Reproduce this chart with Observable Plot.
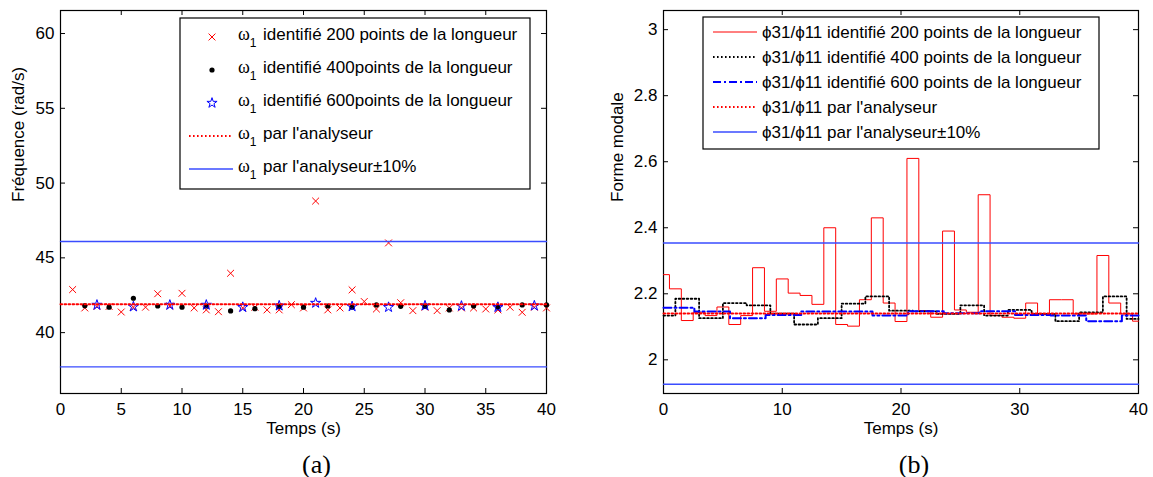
<!DOCTYPE html>
<html><head><meta charset="utf-8">
<script src="https://cdn.jsdelivr.net/npm/d3@7"></script>
<script src="https://cdn.jsdelivr.net/npm/@observablehq/plot@0.6"></script>
<style>
body{margin:0;background:#fff;}
#wrap{position:relative;width:1153px;height:477px;overflow:hidden;background:#fff;}
#wrap svg{position:absolute;overflow:visible;}
</style></head><body><div id="wrap"></div>
<script>
// ---------- Data (a) : fréquence ----------
const tCross = [1,2,3,4,5,6,7,8,9,10,11,12,13,14,15,16,17,18,19,20,21,22,23,24,25,26,27,28,29,30,31,32,33,34,35,36,37,38,39,40];
const freqCross = [42.88,41.65,41.75,41.75,41.38,41.7,41.7,42.6,41.78,42.63,41.65,41.52,41.4,43.97,41.65,41.7,41.52,41.52,41.87,41.65,48.8,41.52,41.65,42.86,42.08,41.58,46.0,42.0,41.47,41.7,41.47,41.65,41.65,41.65,41.58,41.52,41.7,41.36,41.7,41.65];
const tDot = [2,4,6,8,10,12,14,16,18,20,22,24,26,28,30,32,34,36,38,40];
const freqDot = [41.8,41.7,42.3,41.78,41.7,41.78,41.45,41.6,41.75,41.7,41.78,41.7,41.85,41.76,41.75,41.52,41.78,41.7,41.85,41.85];
const tStar = [3,6,9,12,15,18,21,24,27,30,33,36,39];
const freqStar = [41.85,41.74,41.85,41.85,41.7,41.8,41.98,41.75,41.7,41.8,41.78,41.7,41.8];
const freqAnalyzer = [41.9];
const freqBand = [46.09, 37.71];
const xTicksA = [0,5,10,15,20,25,30,35,40];
const yTicksA = [40,45,50,55,60];
const legendA = ["identifié 200 points de la longueur","identifié 400points de la longueur","identifié 600points de la longueur","par l'analyseur","par l'analyseur±10%"];

// ---------- Data (b) : forme modale ----------
const tRed = [0,1,2,3,4,5,6,7,8,9,10,11,12,13,14,15,16,17,18,19,20,21,22,23,24,25,26,27,28,29,30,31,32,33,34,35,36,37,38,39,40];
const shapeRed = [2.258,2.215,2.119,2.144,2.134,2.16,2.107,2.134,2.279,2.147,2.245,2.202,2.195,2.168,2.40,2.107,2.102,2.182,2.43,2.172,2.116,2.61,2.149,2.129,2.39,2.151,2.144,2.50,2.134,2.129,2.126,2.172,2.139,2.182,2.182,2.139,2.139,2.316,2.172,2.139,2.117];
const tBlack = [0,2,4,6,8,10,12,14,16,18,20,22,24,26,28,30,32,34,36,38,40];
const shapeBlack = [2.134,2.185,2.126,2.172,2.165,2.14,2.107,2.126,2.17,2.192,2.149,2.147,2.139,2.165,2.134,2.151,2.139,2.117,2.144,2.192,2.124];
const tBlue = [0,2.6,5.6,8.6,11.6,14.6,17.6,20.6,23.6,26.6,29.6,32.6,35.6,38.6,40];
const shapeBlue = [2.158,2.146,2.126,2.136,2.146,2.146,2.134,2.147,2.141,2.147,2.136,2.134,2.117,2.134,2.134];
const shapeAnalyzer = [2.14];
const shapeBand = [2.354, 1.926];
const xTicksB = [0,10,20,30,40];
const yTicksB = [2,2.2,2.4,2.6,2.8,3];
const legendB = ["ϕ31/ϕ11 identifié 200 points de la longueur","ϕ31/ϕ11 identifié 400 points de la longueur","ϕ31/ϕ11 identifié 600 points de la longueur","ϕ31/ϕ11 par l'analyseur","ϕ31/ϕ11 par l'analyseur±10%"];

// ---------- Styles ----------
const FONT = '"Liberation Sans", Arial, Helvetica, sans-serif';
const SERIF = '"Liberation Serif", "Times New Roman", serif';
const RED = "#ff0000", BLUE = "#0000ff", LBLUE = "#3a4cff";
const DOTTED = "1.6,2.4", DASHDOT = "8,3,2,3";
const H = 477, MT = 10, MB = 84;
const FH = H - MT - MB;
const TL = 5;
const fmt = d => `${d}`;

function boxTicks(xt, yt, fw) {
  return [
    Plot.tickX(xt, {x: d => d, insetTop: FH - TL, stroke: "black"}),
    Plot.tickX(xt, {x: d => d, insetBottom: FH - TL, stroke: "black"}),
    Plot.tickY(yt, {y: d => d, insetRight: fw - TL, stroke: "black"}),
    Plot.tickY(yt, {y: d => d, insetLeft: fw - TL, stroke: "black"})
  ];
}

const zip = (xs, ys) => xs.map((x, i) => ({x, y: ys[i]}));

// horizontal reference lines as line marks across the time span
function hLines(values, tspan, opts) {
  return values.map(v => Plot.line(tspan.map(t => ({x: t, y: v})), {x: "x", y: "y", ...opts}));
}

// ---------- Plot (a) ----------
const WA = 560, MLA = 60, MRA = 14;
const spanA = [xTicksA[0], xTicksA[xTicksA.length - 1]];
const plotA = Plot.plot({
  width: WA, height: H, marginLeft: MLA, marginRight: MRA, marginTop: MT, marginBottom: MB,
  style: {fontFamily: FONT, fontSize: "17px", color: "black", background: "transparent", overflow: "visible"},
  x: {domain: spanA, axis: null},
  y: {domain: [35.93, 61.54], axis: null},
  marks: [
    Plot.frame({stroke: "black", strokeWidth: 1.2}),
    ...boxTicks(xTicksA, yTicksA, WA - MLA - MRA),
    Plot.dot(zip(tCross, freqCross), {x: "x", y: "y", symbol: "times", r: 3.2, stroke: RED, strokeWidth: 1}),
    Plot.dot(zip(tDot, freqDot), {x: "x", y: "y", r: 2.6, fill: "black", stroke: "none"}),
    Plot.dot(zip(tStar, freqStar), {x: "x", y: "y", symbol: "star", r: 3.2, fill: "none", stroke: BLUE, strokeWidth: 1}),
    ...hLines(freqAnalyzer, spanA, {stroke: RED, strokeWidth: 2, strokeDasharray: DOTTED}),
    ...hLines(freqBand, spanA, {stroke: LBLUE, strokeWidth: 1.4}),
    Plot.axisX(xTicksA, {tickSize: 0, tickPadding: 9, label: null, tickFormat: fmt}),
    Plot.axisY(yTicksA, {tickSize: 0, tickPadding: 6, label: null, tickFormat: fmt}),
    Plot.text(["Temps (s)"], {text: d => d, frameAnchor: "bottom", dy: 40, fontSize: 17}),
    Plot.text(["(a)"], {text: d => d, frameAnchor: "bottom", dy: 79, dx: 13, fontSize: 26, fontFamily: SERIF}),
    Plot.text(["Fréquence (rad/s)"], {text: d => d, frameAnchor: "left", dx: -42, rotate: -90, fontSize: 17})
  ]
});

// ---------- Plot (b) ----------
const WB = 573, MLB = 83, MRB = 15;
const spanB = [xTicksB[0], xTicksB[xTicksB.length - 1]];
const plotB = Plot.plot({
  width: WB, height: H, marginLeft: MLB, marginRight: MRB, marginTop: MT, marginBottom: MB,
  style: {fontFamily: FONT, fontSize: "17px", color: "black", background: "transparent", overflow: "visible"},
  x: {domain: spanB, axis: null},
  y: {domain: [1.898, 3.058], axis: null},
  marks: [
    Plot.frame({stroke: "black", strokeWidth: 1.2}),
    ...boxTicks(xTicksB, yTicksB, WB - MLB - MRB),
    Plot.line(zip(tRed, shapeRed), {x: "x", y: "y", curve: "step", stroke: RED, strokeWidth: 1}),
    Plot.line(zip(tBlack, shapeBlack), {x: "x", y: "y", curve: "step", stroke: "black", strokeWidth: 1.8, strokeDasharray: DOTTED}),
    Plot.line(zip(tBlue, shapeBlue), {x: "x", y: "y", curve: "step-after", stroke: BLUE, strokeWidth: 2, strokeDasharray: DASHDOT}),
    ...hLines(shapeAnalyzer, spanB, {stroke: RED, strokeWidth: 2, strokeDasharray: DOTTED}),
    ...hLines(shapeBand, spanB, {stroke: LBLUE, strokeWidth: 1.4}),
    Plot.axisX(xTicksB, {tickSize: 0, tickPadding: 9, label: null, tickFormat: fmt}),
    Plot.axisY(yTicksB, {tickSize: 0, tickPadding: 6, label: null, tickFormat: fmt}),
    Plot.text(["Temps (s)"], {text: d => d, frameAnchor: "bottom", dy: 40, fontSize: 17}),
    Plot.text(["(b)"], {text: d => d, frameAnchor: "bottom", dy: 79, dx: 13, fontSize: 26, fontFamily: SERIF}),
    Plot.text(["Forme modale"], {text: d => d, frameAnchor: "left", dx: -46, rotate: -90, fontSize: 17})
  ]
});

const wrap = document.getElementById("wrap");
plotA.style.left = "0px"; plotA.style.top = "0px";
plotB.style.left = "580px"; plotB.style.top = "0px";
wrap.appendChild(plotA);
wrap.appendChild(plotB);

// ---------- Legends (overlay) ----------
const ov = d3.select(wrap).append("svg")
  .attr("width", 1153).attr("height", 477)
  .style("left", "0px").style("top", "0px")
  .style("font-family", FONT).style("font-size", "17px");

// legend (a)
ov.append("rect").attr("x", 180).attr("y", 18).attr("width", 350).attr("height", 171)
  .attr("fill", "white").attr("stroke", "black").attr("stroke-width", 1.2);
const rowsA = [37, 70, 103, 136, 169];
rowsA.forEach((ry, i) => {
  const g = ov.append("g");
  if (i === 0) g.append("path").attr("transform", `translate(212,${ry})`).attr("d", d3.symbol(d3.symbolTimes, Math.PI * 3.2 * 3.2)()).attr("stroke", RED).attr("fill", "none");
  if (i === 1) g.append("circle").attr("cx", 212).attr("cy", ry).attr("r", 2.6).attr("fill", "black");
  if (i === 2) g.append("path").attr("transform", `translate(212,${ry})`).attr("d", d3.symbol(d3.symbolStar, Math.PI * 3.2 * 3.2)()).attr("stroke", BLUE).attr("fill", "none");
  if (i === 3) g.append("line").attr("x1", 189).attr("x2", 233).attr("y1", ry).attr("y2", ry).attr("stroke", RED).attr("stroke-width", 2).attr("stroke-dasharray", DOTTED);
  if (i === 4) g.append("line").attr("x1", 189).attr("x2", 233).attr("y1", ry).attr("y2", ry).attr("stroke", LBLUE).attr("stroke-width", 1.4);
  const t = g.append("text").attr("x", 238).attr("y", ry + 3);
  t.append("tspan").attr("font-family", SERIF).attr("font-size", 18).text("ω");
  t.append("tspan").attr("font-size", 12).attr("dy", 7).text("1");
  g.append("text").attr("x", 263).attr("y", ry + 3).text(legendA[i]);
});

// legend (b)
ov.append("rect").attr("x", 703).attr("y", 17).attr("width", 396).attr("height", 132)
  .attr("fill", "white").attr("stroke", "black").attr("stroke-width", 1.2);
const rowsB = [32, 57, 82, 107, 132];
const styB = [
  {s: RED, w: 1, d: null}, {s: "black", w: 1.8, d: DOTTED}, {s: BLUE, w: 2, d: DASHDOT},
  {s: RED, w: 2, d: DOTTED}, {s: LBLUE, w: 1.4, d: null}
];
rowsB.forEach((ry, i) => {
  ov.append("line").attr("x1", 713).attr("x2", 757).attr("y1", ry).attr("y2", ry)
    .attr("stroke", styB[i].s).attr("stroke-width", styB[i].w).attr("stroke-dasharray", styB[i].d);
  ov.append("text").attr("x", 762).attr("y", ry + 6).text(legendB[i]);
});
</script>
</body></html>
